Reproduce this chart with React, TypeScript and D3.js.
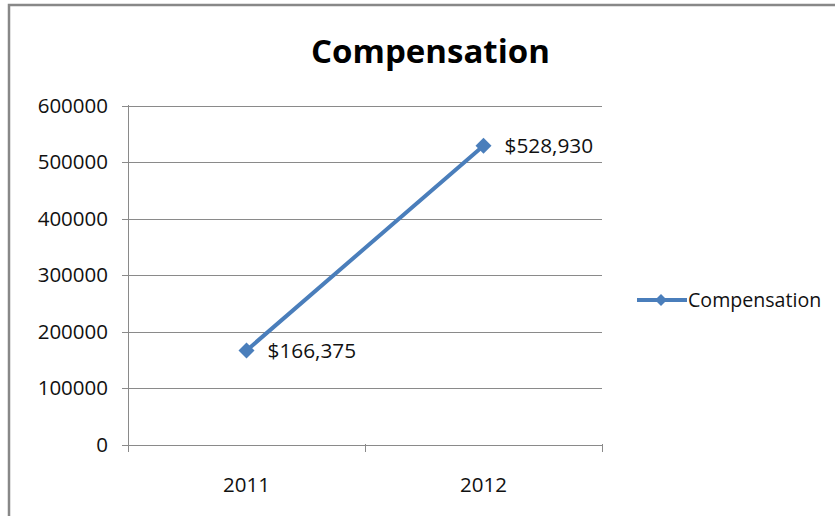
import React from "react";
import * as d3 from "d3";

const categories = ["2011", "2012"];
const values = [166375, 528930];
const yTicks = [0, 100000, 200000, 300000, 400000, 500000, 600000];
const dataLabels = ["$166,375", "$528,930"];
const seriesName = "Compensation";
const title = "Compensation";

const W = 835;
const H = 516;
const FONT = "'Open Sans', 'Noto Sans', sans-serif";
const LINE = "#4A7EBB";
const GRID = "#8a8a8a";

export default function App() {
  const x = d3.scaleBand<string>().domain(categories).range([128, 602]);
  const y = d3.scaleLinear().domain([0, 600000]).range([444.5, 105.5]);
  const cx = (c: string) => (x(c) as number) + x.bandwidth() / 2;
  const pts: [number, number][] = categories.map((c, i) => [cx(c), y(values[i])]);
  const line = d3.line<[number, number]>();
  const diamond = (px: number, py: number, r: number) =>
    `M${px},${py - r}L${px + r},${py}L${px},${py + r}L${px - r},${py}Z`;
  const xTickPositions = [128, ...categories.map((c) => (x(c) as number) + x.bandwidth())];

  return (
    <svg
      width={W}
      height={H}
      style={{ position: "absolute", left: 0, top: 0, background: "#fff" }}
      fontFamily={FONT}
    >
      <rect x={0} y={0} width={W} height={H} fill="#fff" />
      <rect x={9} y={5} width={W + 20} height={H + 20} fill="none" stroke="#888" strokeWidth={2.5} />
      <text x={430.5} y={63} textAnchor="middle" fontSize={33} fontWeight="bold" fill="#000">
        {title}
      </text>
      {yTicks.map((t) => (
        <g key={t}>
          <line x1={122} x2={602} y1={Math.round(y(t)) + 0.5} y2={Math.round(y(t)) + 0.5} stroke={GRID} strokeWidth={1} />
          <text x={108} y={y(t)} dy="0.35em" textAnchor="end" fontSize={20.5} fill="#111">
            {t}
          </text>
        </g>
      ))}
      <line x1={128.5} x2={128.5} y1={105} y2={445} stroke={GRID} strokeWidth={1} />
      {xTickPositions.map((p, i) => (
        <line key={i} x1={Math.round(p) + 0.5} x2={Math.round(p) + 0.5} y1={444} y2={452} stroke={GRID} strokeWidth={1} />
      ))}
      {categories.map((c) => (
        <text key={c} x={cx(c)} y={492} textAnchor="middle" fontSize={20.5} fill="#111">
          {c}
        </text>
      ))}
      <path d={line(pts) || ""} fill="none" stroke={LINE} strokeWidth={4} strokeLinecap="round" />
      {pts.map(([px, py], i) => (
        <g key={i}>
          <path d={diamond(px, py, 8)} fill={LINE} />
          <text x={px + 21} y={py} dy="0.35em" fontSize={20.8} fill="#111">
            {dataLabels[i]}
          </text>
        </g>
      ))}
      <line x1={637} x2={687} y1={300} y2={300} stroke={LINE} strokeWidth={4} />
      <path d={diamond(661, 300, 6)} fill={LINE} />
      <text x={688} y={300} dy="0.35em" fontSize={19.6} fill="#111">
        {seriesName}
      </text>
    </svg>
  );
}
